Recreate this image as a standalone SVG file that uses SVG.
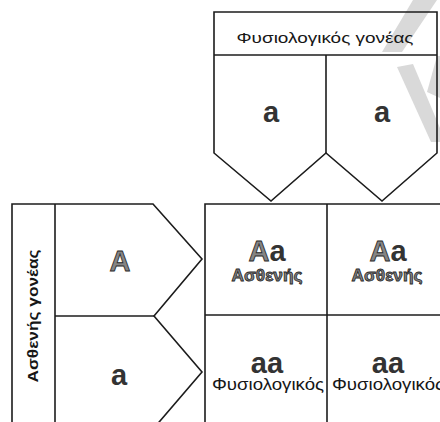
<svg xmlns="http://www.w3.org/2000/svg" width="440" height="422" viewBox="0 0 440 422">
  <style>
    .ln { fill: none; stroke: #1c1c1c; stroke-width: 1.6; stroke-linejoin: miter; }
    .lbl { font-family: "Liberation Sans", Arial, sans-serif; fill: #161616; }
    .big { font-family: "Liberation Sans", Arial, sans-serif; font-size: 29px; font-weight: bold; fill: #333; text-anchor: middle; }
    .sick { fill: #858585; stroke: #2a2a2a; stroke-width: 0.8; }
    .wm { fill: #d9d9d9; }
  </style>

  <rect width="440" height="422" fill="#ffffff"/>

  <!-- faint watermark strokes -->
  <g id="watermark">
    <polygon class="wm" points="413,0 437,0 402,52 382,52"/>
    <polygon class="wm" points="397,67 413,64 440,128 440,142 431,142"/>
    <polygon class="wm" points="437,56 440,56 440,98 427,92"/>
  </g>

  <!-- healthy parent: header with two gamete cells -->
  <g id="parent-healthy">
    <path class="ln" d="M214,12 H437 V153 L382,201 L326,153 L271,201 L214,153 Z"/>
    <line class="ln" x1="214" y1="55" x2="437" y2="55"/>
    <line class="ln" x1="326" y1="55" x2="326" y2="153"/>
    <text class="lbl" x="325" y="43" font-size="15.5" text-anchor="middle" textLength="177" lengthAdjust="spacingAndGlyphs">Φυσιολογικός γονέας</text>
    <text class="big" x="271" y="122">a</text>
    <text class="big" x="382" y="122">a</text>
  </g>

  <!-- affected parent: side label with two gamete cells -->
  <g id="parent-affected">
    <path class="ln" d="M12,430 V204 H153 L202,259 L154,316 L202,372 L154,428"/>
    <line class="ln" x1="55" y1="204" x2="55" y2="430"/>
    <line class="ln" x1="55" y1="316" x2="154" y2="316"/>
    <text class="lbl" x="38" y="316" font-size="14" font-weight="bold" text-anchor="middle" transform="rotate(-90 38 316)" textLength="133" lengthAdjust="spacingAndGlyphs">Ασθενής γονέας</text>
    <text class="big sick" x="120" y="271" font-size="22">A</text>
    <text class="big" x="119" y="385">a</text>
  </g>

  <!-- offspring grid -->
  <g id="grid">
    <path class="ln" d="M205,430 V204 H445"/>
    <line class="ln" x1="327" y1="204" x2="327" y2="430"/>
    <line class="ln" x1="205" y1="315" x2="445" y2="315"/>
  </g>

  <g id="cell-Aa-1">
    <text class="big" x="267" y="261"><tspan class="sick">A</tspan>a</text>
    <text class="lbl sick" x="267" y="281" font-size="16" font-weight="bold" text-anchor="middle" textLength="71" lengthAdjust="spacingAndGlyphs">Ασθενής</text>
  </g>
  <g id="cell-Aa-2">
    <text class="big" x="388" y="261"><tspan class="sick">A</tspan>a</text>
    <text class="lbl sick" x="387" y="281" font-size="16" font-weight="bold" text-anchor="middle" textLength="71" lengthAdjust="spacingAndGlyphs">Ασθενής</text>
  </g>
  <g id="cell-aa-1">
    <text class="big" x="267" y="373">aa</text>
    <text class="lbl" x="268" y="390" font-size="16" text-anchor="middle" textLength="112" lengthAdjust="spacingAndGlyphs">Φυσιολογικός</text>
  </g>
  <g id="cell-aa-2">
    <text class="big" x="388" y="373">aa</text>
    <text class="lbl" x="388" y="390" font-size="16" text-anchor="middle" textLength="112" lengthAdjust="spacingAndGlyphs">Φυσιολογικός</text>
  </g>

  <g id="connectors"/>
</svg>
